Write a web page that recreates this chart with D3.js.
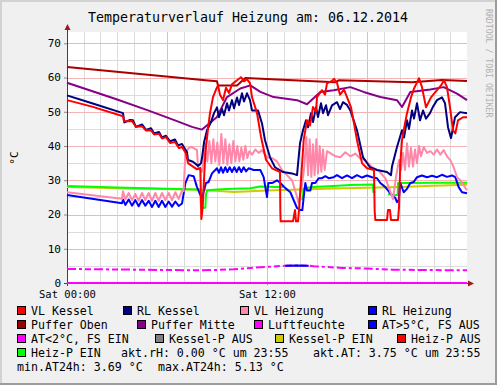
<!DOCTYPE html>
<html>
<head>
<meta charset="utf-8">
<script src="https://cdn.jsdelivr.net/npm/d3@7"></script>
<style>
body { margin: 0; background: #fff; }
svg text { font-family: "DejaVu Sans Mono", monospace; fill: #000; }
</style>
</head>
<body>
<div id="chart"></div>
<script>
// series: [hour, °C]
const vlKessel = [[0,53.4],[1.5,51.5],[3.36,48.7],[3.42,47.2],[3.9,47.3],[4.14,45.6],[4.5,45.8],[4.74,44.5],[5.04,44.6],[5.22,43.4],[5.52,43.6],[5.7,42.2],[5.94,42.6],[6.18,40.9],[6.48,41.2],[6.72,39.4],[6.9,39.7],[7.14,37.8],[7.26,35.0],[7.56,34.0],[7.8,33.2],[8.0,33.6],[8.06,18.7],[8.14,22],[8.3,38],[8.46,45],[8.58,49.6],[8.76,54.3],[8.94,56.5],[9.06,57.7],[9.18,55],[9.36,53.4],[9.54,57.0],[9.72,55.5],[9.9,58.0],[10.2,59.2],[10.44,60.1],[10.62,58.9],[10.8,59.5],[10.98,58.4],[11.1,54.3],[11.4,49.6],[11.64,42.7],[11.94,36.0],[12.3,33.5],[12.6,32.8],[12.78,32.4],[12.8,21.0],[12.82,18.0],[13.56,18.0],[13.68,21.3],[13.74,18.0],[13.86,18.0],[13.92,21.3],[14.04,30],[14.2,41.7],[14.4,47.5],[14.58,46],[14.76,51.4],[14.94,50],[15.0,54.3],[15.3,56.3],[15.48,55],[15.6,58.3],[15.9,59.0],[16.02,59.6],[16.2,58.5],[16.38,55],[16.62,56.5],[16.8,54.3],[17.04,51.3],[17.22,46.6],[17.4,41.7],[17.7,35.0],[18.0,33.5],[18.42,33.0],[18.46,21.0],[18.5,18.4],[19.2,18.4],[19.26,21.3],[19.38,21.3],[19.44,18.4],[19.86,18.4],[19.92,22],[20.0,35],[20.1,41.7],[20.28,46.6],[20.4,49.6],[20.64,54.2],[20.82,56.8],[21.0,58.6],[21.12,59.8],[21.3,57.2],[21.54,51.3],[21.84,54.2],[22.2,56.3],[22.44,57.7],[22.62,59.2],[22.8,57.2],[22.98,51.3],[23.16,44.6],[23.3,43.7],[23.46,47.5],[23.76,48.4],[24,48.4]];

const rlKessel = [[0,54.8],[1.5,52.5],[3.36,49.6],[3.44,46.9],[3.78,47.6],[3.96,47.5],[4.14,45.6],[4.5,46.3],[4.74,44.7],[5.04,45.2],[5.22,43.7],[5.52,44.1],[5.7,42.5],[5.94,43.0],[6.18,41.4],[6.48,41.9],[6.66,40.2],[6.9,40.6],[7.2,38.2],[7.26,35.9],[7.56,35.4],[7.86,34.2],[8.04,35.0],[8.1,36.5],[8.22,41.0],[8.4,44.6],[8.64,47.0],[8.82,49.6],[9.0,51.3],[9.12,48.4],[9.3,50.8],[9.42,49.0],[9.6,52.5],[9.72,50.4],[9.9,53.4],[10.02,51.0],[10.2,54.2],[10.32,52.0],[10.5,55.4],[10.62,53.0],[10.8,55.4],[10.98,53.4],[11.1,50.4],[11.46,50.4],[11.7,46.6],[11.88,41.7],[12.18,36.7],[12.48,33.8],[12.96,32.4],[13.5,32.0],[13.8,31.5],[13.98,40.8],[14.16,44.6],[14.34,47.5],[14.46,45.5],[14.64,49.6],[14.76,47.0],[14.94,51.3],[15.06,48.5],[15.24,52.5],[15.36,49.6],[15.54,51.9],[15.66,49.0],[15.9,51.9],[16.2,52.8],[16.38,50.8],[16.56,52.8],[16.8,52.0],[17.0,50.4],[17.4,44.6],[17.76,36.7],[18.18,33.8],[18.6,33.0],[19.2,32.4],[19.44,31.5],[19.5,34],[19.8,39.7],[20.1,44.6],[20.22,42.5],[20.4,47.5],[20.52,45.0],[20.7,50.4],[20.82,48.0],[21.0,52.5],[21.18,47.5],[21.36,50.4],[21.54,48.0],[21.78,49.6],[21.96,51.5],[22.2,53.4],[22.5,54.2],[22.68,52.5],[22.86,45.5],[23.04,42.3],[23.28,48.4],[23.58,49.9],[24,49.6]];

const vlHeizung = [[0,26.5],[3.3,24.6],[3.36,26.8],[3.5,24.4],[3.7,26.3],[3.9,24.2],[4.1,26.0],[4.3,24.0],[4.5,26.3],[4.7,24.2],[4.9,26.3],[5.1,24.0],[5.3,26.3],[5.5,24.0],[5.7,26.3],[5.9,24.2],[6.1,26.3],[6.3,24.2],[6.5,26.5],[6.7,24.5],[6.9,27.0],[7.0,26.8],[7.1,37.9],[7.3,39.4],[7.5,39.7],[7.8,38.8],[7.86,33.5],[8.1,32.5],[8.3,40.8],[8.42,35.5],[8.54,41.5],[8.66,35.0],[8.78,42.0],[8.9,35.5],[9.02,41.0],[9.14,34.5],[9.26,43.5],[9.38,35.0],[9.5,42.0],[9.62,34.5],[9.74,40.5],[9.86,35.0],[9.98,41.5],[10.1,35.5],[10.22,40.0],[10.34,35.5],[10.46,39.5],[10.58,36.0],[10.7,40.0],[10.82,36.5],[10.94,38.5],[11.1,37.5],[11.3,39.0],[11.5,38.0],[11.7,38.8],[12.0,36.7],[12.3,36.5],[12.6,35.5],[12.9,33.0],[13.2,31.5],[13.5,30.0],[13.74,26.2],[13.9,23.3],[14.08,28],[14.24,34],[14.36,42.6],[14.46,31.5],[14.56,42],[14.66,31],[14.76,40.5],[14.86,31.5],[14.96,42],[15.06,32],[15.16,40],[15.26,32.5],[15.36,39],[15.46,33],[15.6,38.5],[15.8,37.9],[16.1,37.0],[16.4,36.7],[16.7,38.2],[17.0,37.0],[17.3,37.8],[17.6,36.3],[17.9,35.9],[18.3,33.8],[18.7,32.8],[19.1,30.6],[19.3,28],[19.56,24.5],[19.74,30.9],[19.92,35.9],[20.04,33],[20.16,38],[20.28,33],[20.4,40.8],[20.52,34],[20.64,39.5],[20.76,34],[20.88,39],[21.0,35],[21.12,40],[21.24,37],[21.4,39.7],[21.6,38.0],[21.8,38.5],[22.0,37.5],[22.2,39.0],[22.4,37.5],[22.6,38.8],[22.8,37.0],[23.0,35.9],[23.2,33.8],[23.4,30.9],[23.6,30.0],[23.8,28.5],[24,27.1]];

const rlHeizung = [[0,25.7],[3.3,23.3],[3.36,24.4],[3.5,22.8],[3.7,24.4],[3.9,22.6],[4.1,24.2],[4.3,22.4],[4.5,24.2],[4.7,22.6],[4.9,24.0],[5.1,22.2],[5.3,24.0],[5.5,22.2],[5.7,24.0],[5.9,22.2],[6.1,23.8],[6.3,22.3],[6.5,23.8],[6.7,22.5],[6.9,23.2],[7.1,29.1],[7.3,31.5],[7.6,31.2],[7.8,28.0],[7.96,26.2],[8.1,24.8],[8.34,29.2],[8.5,29.5],[8.7,32.0],[9.0,33.5],[9.12,32.2],[9.24,33.8],[9.36,32.2],[9.5,33.8],[9.62,32.4],[9.76,33.8],[9.9,32.4],[10.04,33.8],[10.18,32.4],[10.32,33.8],[10.46,32.4],[10.6,33.8],[10.74,32.6],[10.9,33.5],[11.2,33.0],[11.6,33.0],[11.8,30.9],[12.0,25.1],[12.08,29.2],[12.3,29.2],[12.6,30.0],[12.8,29.2],[13.1,27.7],[13.4,26.5],[13.8,21.9],[14.0,21.3],[14.12,21.3],[14.2,25],[14.3,29.2],[14.4,27],[14.6,27],[14.7,29.2],[14.9,29.2],[15.1,30.6],[15.3,30.6],[15.5,31.2],[15.7,30.6],[16.0,30.9],[16.2,31.5],[16.5,30.6],[16.8,31.4],[17.1,30.6],[17.4,31.5],[17.7,30.8],[18.0,31.4],[18.3,30.9],[18.6,30.6],[18.8,29.2],[19.1,28.0],[19.4,26.2],[19.7,24.8],[19.8,23.6],[19.9,24.2],[20.0,29.2],[20.2,26.5],[20.4,27.5],[20.6,29.2],[20.8,29.5],[21.0,30.9],[21.3,31.4],[21.6,30.9],[21.9,31.3],[22.2,30.9],[22.5,31.6],[22.8,31.0],[23.1,31.4],[23.3,30.9],[23.5,28.0],[23.7,26.5],[24,26.2]];

const pufferOben = [[0,63.1],[8.3,59.2],[9.0,58.9],[9.06,57.7],[10.2,57.7],[10.7,59.9],[16.1,58.6],[16.3,59.2],[20.7,58.6],[22.5,59.3],[24,59.0]];

const pufferMitte = [[0,58.5],[2.88,53.8],[4.86,50.4],[6.48,47.5],[7.5,45.6],[8.1,44.8],[9.0,48.5],[9.6,54.3],[10.4,56.8],[11.0,57.7],[11.6,55.8],[12.4,54.3],[13.8,53.4],[14.4,52.2],[15.2,55.8],[16.0,56.3],[17.0,57.2],[17.8,55.8],[18.8,54.3],[19.8,53.4],[20.1,51.4],[20.6,55.8],[21.8,56.5],[22.6,57.2],[23.4,55.3],[24,53.4]];

const kesselPEin = [[0,28.0],[4,27.6],[8,27.2],[10,26.6],[12,27.0],[14,27.3],[16,27.6],[18,27.8],[20,28.0],[22,28.4],[24,28.7]];

const heizPEin = [[0,28.3],[3,27.9],[6,27.5],[7.9,27.3],[8.0,27.2],[8.04,22.0],[8.3,22.0],[8.34,26.0],[8.44,27.1],[9.0,27.3],[10,27.5],[11,27.7],[11.6,28.2],[12.5,28.0],[12.96,28.0],[13.0,null],[14.1,null],[14.12,24.2],[14.2,27.6],[14.5,27.9],[15,28.1],[16,28.3],[17,28.6],[18.36,28.8],[18.38,26.5],[18.5,26.5],[18.52,null],[19.24,null],[19.26,26.0],[19.5,25.7],[19.84,25.7],[19.86,29.2],[20.5,29.2],[22,29.3],[24,29.3]];

const aussen = [[0,4.1],[2,4.0],[4,3.9],[6,3.8],[7.5,3.7],[9,3.8],[10,4.0],[11,4.4],[12,4.7],[12.8,4.95],[13.1,5.05],[13.8,5.13],[14.5,5.05],[14.8,4.9],[15.5,4.7],[16.5,4.4],[17.5,4.3],[18.5,4.1],[19.5,3.9],[21,3.8],[22.5,3.75],[24,3.75]];

const luftfeuchte = [[0,0],[24,0]];

const yTicks = [0, 10, 20, 30, 40, 50, 60, 70];
const xLabels = [[0, "Sat 00:00"], [12, "Sat 12:00"]];

const legendRows = [
  [["VL Kessel", "#ff0000", 17], ["RL Kessel", "#000080", 123], ["VL Heizung", "#ff88aa", 240], ["RL Heizung", "#0000ff", 368]],
  [["Puffer Oben", "#990000", 17], ["Puffer Mitte", "#880088", 137], ["Luftfeuchte", "#ff00ff", 254], ["AT>5°C, FS AUS", "#0000ff", 368]],
  [["AT<2°C, FS EIN", "#ff00ff", 17], ["Kessel-P AUS", "#808080", 155], ["Kessel-P EIN", "#cccc00", 275], ["Heiz-P AUS", "#ff0000", 397]],
  [["Heiz-P EIN", "#00ff00", 17]]
];
const infoTexts = [
  ["akt.rH: 0.00 °C um 23:55", 121, 357],
  ["akt.AT: 3.75 °C um 23:55", 313, 357],
  ["min.AT24h: 3.69 °C", 17, 371],
  ["max.AT24h: 5.13 °C", 158, 371]
];

const W = 497, H = 385;
const plot = { left: 67, right: 467, top: 32, bottom: 283 };

const svg = d3.select("#chart").append("svg")
    .attr("width", W).attr("height", H);

// canvas + 3d frame
svg.append("rect").attr("width", W).attr("height", H).attr("fill", "#f0f0f0");
svg.append("rect").attr("x", 0).attr("y", 0).attr("width", W).attr("height", 2).attr("fill", "#d2d2d2");
svg.append("rect").attr("x", 0).attr("y", 0).attr("width", 2).attr("height", H).attr("fill", "#d2d2d2");
svg.append("rect").attr("x", 0).attr("y", H - 2).attr("width", W).attr("height", 2).attr("fill", "#9c9c9c");
svg.append("rect").attr("x", W - 2).attr("y", 0).attr("width", 2).attr("height", H).attr("fill", "#9c9c9c");

svg.append("rect")
    .attr("x", plot.left).attr("y", plot.top)
    .attr("width", plot.right - plot.left).attr("height", plot.bottom - plot.top)
    .attr("fill", "#fff");

const x = d3.scaleLinear().domain([0, 24]).range([plot.left, plot.right]);
const y = d3.scaleLinear().domain([0, 73.3]).range([plot.bottom, plot.top]);

// grid
const grid = svg.append("g").attr("shape-rendering", "crispEdges");
grid.selectAll(".vmin").data(d3.range(1, 24)).enter().append("line")
    .attr("x1", d => Math.round(x(d)) + 0.5).attr("x2", d => Math.round(x(d)) + 0.5)
    .attr("y1", plot.top).attr("y2", plot.bottom)
    .attr("stroke", d => d % 6 === 0 ? "#f2b4b4" : "#dcdcdc");
grid.selectAll(".hmin").data(d3.range(5, 73, 5)).enter().append("line")
    .attr("x1", plot.left).attr("x2", plot.right)
    .attr("y1", d => Math.round(y(d)) + 0.5).attr("y2", d => Math.round(y(d)) + 0.5)
    .attr("stroke", d => d % 10 === 0 ? "#f2b4b4" : "#dcdcdc");

// axes
const axisColor = "#a01818";
const yAxis = svg.append("g")
    .attr("transform", `translate(${plot.left},0)`)
    .call(d3.axisLeft(y).tickValues(yTicks).tickSize(3).tickFormat(d3.format("d")));
yAxis.select(".domain").remove();
yAxis.selectAll("line").attr("stroke", "#888");
yAxis.selectAll("text").attr("font-size", "11px").attr("x", -6).attr("dy", "0.3em")
    .style("font-family", '"DejaVu Sans Mono", monospace');

const xAxis = svg.append("g")
    .attr("transform", `translate(0,${plot.bottom})`)
    .call(d3.axisBottom(x).tickValues(xLabels.map(d => d[0]))
      .tickFormat((d, i) => xLabels[i][1]).tickSize(2));
xAxis.select(".domain").remove();
xAxis.selectAll("line").attr("stroke", "#888");
xAxis.selectAll("text").attr("font-size", "10.5px").attr("y", 8)
    .style("font-family", '"DejaVu Sans Mono", monospace');

svg.append("line").attr("x1", plot.left + 0.5).attr("x2", plot.left + 0.5)
    .attr("y1", plot.bottom + 3).attr("y2", plot.top - 3)
    .attr("stroke", axisColor);
svg.append("line").attr("x1", plot.left - 3).attr("x2", plot.right + 3)
    .attr("y1", plot.bottom + 0.5).attr("y2", plot.bottom + 0.5)
    .attr("stroke", axisColor);
svg.append("path")
    .attr("d", `M${plot.left - 2.5},${plot.top - 2} L${plot.left + 0.5},${plot.top - 8} L${plot.left + 3.5},${plot.top - 2} Z`)
    .attr("fill", axisColor);
svg.append("path")
    .attr("d", `M${plot.right + 1},${plot.bottom - 2.5} L${plot.right + 7},${plot.bottom + 0.5} L${plot.right + 1},${plot.bottom + 3.5} Z`)
    .attr("fill", axisColor);

// lines
const line = d3.line()
    .defined(d => d[1] != null)
    .x(d => x(d[0])).y(d => y(d[1]));

const plotG = svg.append("g");
function draw(data, color, width, extra) {
  const p = plotG.append("path").datum(data)
      .attr("d", line).attr("fill", "none")
      .attr("stroke", color).attr("stroke-width", width)
      .attr("stroke-linejoin", "round");
  if (extra) extra(p);
  return p;
}

draw(luftfeuchte, "#ff00ff", 2);
draw(aussen, "#ff00ff", 2, p => p.attr("stroke-dasharray", "9,3,3,3,6,3"));
draw(aussen.map(d => [d[0], d[1] >= 5 ? d[1] : null]), "#0000ff", 2);
draw(kesselPEin, "#cccc00", 2);
draw(heizPEin, "#00ff00", 2);
draw(rlHeizung, "#0000ff", 2);
draw(vlHeizung, "#ff88aa", 2);
draw(pufferMitte, "#880088", 2);
draw(pufferOben, "#aa0000", 2);
draw(rlKessel, "#000080", 2);
draw(vlKessel, "#ff0000", 2);

// title
svg.append("text")
    .attr("x", 248).attr("y", 22)
    .attr("text-anchor", "middle")
    .attr("font-size", "13.3px")
    .text("Temperaturverlauf Heizung am: 06.12.2014");

// y label
svg.append("text")
    .attr("transform", "translate(18,158) rotate(-90)")
    .attr("text-anchor", "middle")
    .attr("font-size", "11px")
    .text("°C");

// watermark
svg.append("text")
    .attr("transform", "translate(486,9) rotate(90)")
    .attr("font-size", "8.2px")
    .style("fill", "#b0b0b0")
    .text("RRDTOOL / TOBI OETIKER");

// legend
const legend = svg.append("g");
legendRows.forEach((row, ri) => {
  const base = 315 + ri * 14;
  row.forEach(([label, color, lx]) => {
    legend.append("rect")
        .attr("x", lx + 0.5).attr("y", base - 8.5)
        .attr("width", 8).attr("height", 8)
        .attr("fill", color).attr("stroke", "#000").attr("stroke-width", 1);
    legend.append("text")
        .attr("x", lx + 14).attr("y", base)
        .attr("font-size", "11.6px")
        .text(label);
  });
});
infoTexts.forEach(([t, tx, ty]) => {
  legend.append("text").attr("x", tx).attr("y", ty)
      .attr("font-size", "11.6px").text(t);
});
</script>
</body>
</html>
